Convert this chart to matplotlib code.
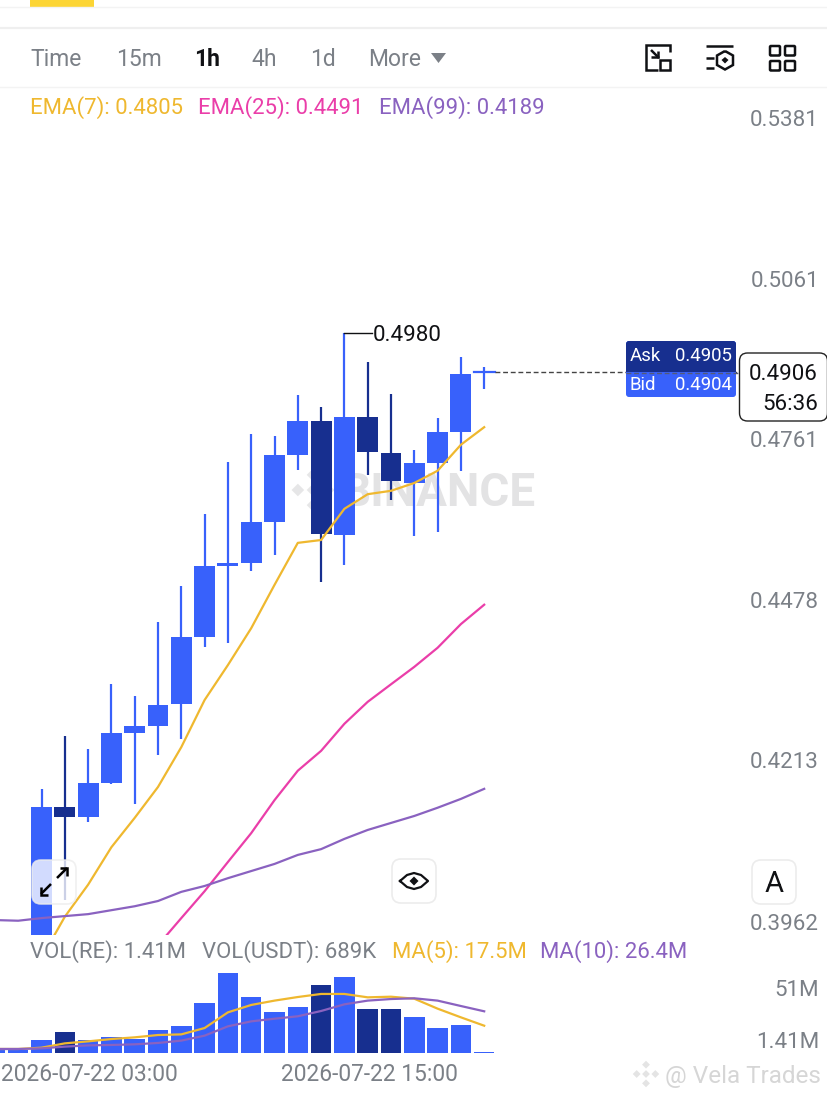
import numpy as np
from matplotlib import pyplot as plt
from matplotlib.patches import FancyBboxPatch, Polygon, Rectangle
from matplotlib.transforms import blended_transform_factory, ScaledTranslation

# candles, one per hour, index 0 is 01:00
opens = [.3929,.4157,.4141,.4195,.4276,.4287,.4323,.4435,.4557,.4562,.4634,.4753,.4815,.4611,.4823,.4757,.4703,.4739,.4795,.4904]
closes = [.4157,.4141,.4195,.4276,.4287,.4322,.4435,.4557,.4562,.4634,.4753,.4815,.4613,.4823,.4759,.4707,.4739,.4795,.4902,.4906]
highs = [.4186,.4271,.4250,.4356,.4337,.4461,.4522,.4648,.4741,.4792,.4788,.4863,.4841,.4980,.4925,.4865,.4762,.4821,.4934,.4915]
lows = [.3900,.4013,.4133,.4194,.4162,.4240,.4266,.4418,.4425,.4548,.4576,.4726,.4529,.4558,.4717,.4673,.4609,.4616,.4725,.4874]
ema7 = [.3925,.3987,.4036,.4094,.4140,.4189,.4253,.4330,.4388,.4450,.4524,.4597,.4602,.4657,.4683,.4689,.4703,.4725,.4772,.4804]
ema25 = [.3863,.3885,.3900,.3914,.3929,.3944,.3985,.4026,.4071,.4116,.4168,.4215,.4247,.4291,.4327,.4356,.4385,.4417,.4457,.4490]
# these start two candles earlier, off the left edge
ema99 = [.3982,.3981,.3985,.3988,.3991,.3997,.4003,.4011,.4025,.4034,.4046,.4057,.4068,.4082,.4091,.4107,.4121,.4132,.4143,.4156,.4170,.4186]
volumes = [2.4,3.3,12.3,19.8,12.3,15.1,13.2,21.7,25.5,47.3,75.6,52.9,38.7,43.5,64.3,71.8,41.6,41.6,34.0,23.6,26.5,1.41]
ma5 = [3.8,3.8,5.0,9.1,11.0,13.2,14.8,17.0,17.6,23.6,38.4,45.4,49.5,52.9,55.8,55.8,52.6,53.2,51.3,41.9,33.7,25.8]
ma10 = [3.8,3.8,4.4,6.0,7.2,7.6,8.2,9.5,11.7,16.4,25.2,29.9,32.4,34.7,39.7,46.0,49.5,51.0,51.7,49.5,44.4,39.4]
down_volume = [3,14,16,17]

price_ticks = [0.5381, 0.5061, 0.4761, 0.4478, 0.4213, 0.3962]
vol_ticks = [51, 1.41]
vol_tick_labels = ['51M', '1.41M']
time_ticks = [2, 14]
time_labels = ['2026-07-22 03:00', '2026-07-22 15:00']
tabs = ['Time', '15m', '1h', '4h', '1d', 'More']
last_price = 0.4906
high_price = 0.4980

UP = '#3861fb'
DOWN = '#172f8f'
YELLOW = '#efb82f'
PINK = '#ea3ea9'
PURPLE = '#8a62c0'
GREY = '#7b8087'
BLACK = '#101114'
NUM = 16.1

plt.rcParams['font.family'] = ['Roboto', 'DejaVu Sans']
W, H = 828, 1100
fig = plt.figure(figsize=(W/100, H/100), dpi=100)

def px_axes(top, bottom, z):
    a = fig.add_axes([0, 1-bottom/H, 1, (bottom-top)/H])
    a.set_zorder(z)
    a.patch.set_alpha(0)
    return a

# same candle spacing in both panes
x0, step = 41.5, 23.3
xlim = (-x0/step, (W-x0)/step)

def price_at(y):
    return 0.4906*np.exp((372-y)*0.00038075)

# background layer, pixel coords, watermark sits behind candles
bg = px_axes(0, H, 0)
bg.set_xlim(0, W); bg.set_ylim(H, 0); bg.axis('off')

def binance_logo(a, cx, cy, s, color):
    for dx, dy in [(0,-1),(0,1),(-1,0),(1,0),(0,0)]:
        r = s*0.3
        a.add_patch(Polygon([(cx+dx*s*0.72-r, cy+dy*s*0.72),(cx+dx*s*0.72, cy+dy*s*0.72-r),
                             (cx+dx*s*0.72+r, cy+dy*s*0.72),(cx+dx*s*0.72, cy+dy*s*0.72+r)],
                            closed=True, fc=color, ec='none'))

binance_logo(bg, 313, 490, 21, '#e6e6e7')
bg.text(438, 493, 'BINANCE', fontsize=33, fontweight='bold', color='#e3e3e4', ha='center', va='center')

# main price pane, log scale like the app
ax = px_axes(90, 935, 1)
ax.set_yscale('log')
ax.set_xlim(*xlim)
ax.set_ylim(price_at(935), price_at(90))
idx = np.arange(len(opens))
idx_long = np.arange(len(ema99)) - 2
for i in idx:
    c = UP if closes[i] >= opens[i] else DOWN
    ax.plot([i, i], [lows[i], highs[i]], color=c, lw=1.6, solid_capstyle='butt', zorder=2)
    ax.bar(i, abs(closes[i]-opens[i]), bottom=min(opens[i], closes[i]), width=0.9, color=c, zorder=2)
# last candle is nearly flat
ax.plot([18.55, 19.45], [last_price, last_price], color=UP, lw=1.6, zorder=2)
ax.plot(idx, ema7, color=YELLOW, lw=1.6, zorder=3)
ax.plot(idx, ema25, color=PINK, lw=1.6, zorder=3)
ax.plot(idx_long, ema99, color=PURPLE, lw=1.6, zorder=3)
ax.plot([19.45, 30.1], [last_price, last_price], color='#444444', lw=1, dashes=(3.5, 2), zorder=5)
ax.plot([13, 14.2], [high_price, high_price], color=BLACK, lw=1, zorder=4)
ax.annotate(f'{high_price:.4f}', xy=(14.2, high_price), xytext=(0, -3), textcoords='offset pixels',
            fontsize=NUM, color=BLACK, va='center', ha='left')
trans = blended_transform_factory(ax.transAxes, ax.transData)
for t in price_ticks:
    ax.annotate(f'{t:.4f}', xy=(1, t), xycoords=trans, xytext=(-9, 9), textcoords='offset pixels',
                fontsize=NUM, color=GREY, ha='right', va='center')
ax.set_axis_off()

# volume pane
vax = px_axes(965, 1053, 1)
vax.set_xlim(*xlim)
vax.set_ylim(0, (1053-965)*0.945)
vol_colors = [DOWN if i in down_volume else UP for i in range(len(volumes))]
vax.bar(idx_long, volumes, width=0.88, color=vol_colors, zorder=2)
vax.plot(idx_long, ma5, color=YELLOW, lw=1.6, zorder=3)
vax.plot(idx_long, ma10, color=PURPLE, lw=1.6, zorder=3)
vtrans = blended_transform_factory(vax.transAxes, vax.transData)
for t, lab in zip(vol_ticks, vol_tick_labels):
    vax.annotate(lab, xy=(1, t), xycoords=vtrans, xytext=(-9, 9), textcoords='offset pixels',
                 fontsize=NUM, color=GREY, ha='right', va='center')
for s in vax.spines.values():
    s.set_visible(False)
vax.set_yticks([])
vax.set_xticks(time_ticks)
vax.set_xticklabels(time_labels, fontsize=16.4, color=GREY)
vax.tick_params(axis='x', length=0, pad=7)
# first label would clip the left edge otherwise
nudge = ScaledTranslation(1.5/100, 0, fig.dpi_scale_trans)
for lab in vax.get_xticklabels():
    lab.set_transform(lab.get_transform() + nudge)

# app chrome on top
ui = px_axes(0, H, 5)
ui.set_xlim(0, W); ui.set_ylim(H, 0); ui.axis('off')

ui.add_patch(Rectangle((30, 0), 64, 6.5, fc='#fcd535', ec='none'))
ui.plot([0, W], [7, 7], color='#f3f3f3', lw=1)
ui.plot([0, W], [28, 28], color='#efefef', lw=1.6)
ui.plot([0, W], [87, 87], color='#f3f3f3', lw=1)

tab_x = [30, 116, 194, 251, 310, 368]
for name, tx in zip(tabs, tab_x):
    active = name == '1h'
    ui.text(tx, 60, name, fontsize=16.5, color=BLACK if active else GREY, fontweight='bold' if active else 'normal',
            ha='left', va='center')
ui.add_patch(Polygon([(431, 53), (446, 53), (438.5, 63)], closed=True, fc=GREY, ec='none'))

def line(xs, ys, lw=1.8, c=BLACK):
    ui.plot(xs, ys, color=c, lw=lw, solid_capstyle='butt', solid_joinstyle='miter')

# picture-in-picture icon
line([670.5, 670.5, 646, 646, 658], [52, 45, 45, 70, 70])
ui.add_patch(Rectangle((660, 60), 10.5, 10, fc='white', ec=BLACK, lw=1.8))
line([651, 658], [50, 57])
line([658, 658], [51, 58])
line([651, 659], [57, 57])
# settings icon
line([706, 733], [46, 46])
line([706, 714], [58, 58])
line([706, 714], [68, 68])
hx = [725, 733, 733, 725, 717, 717, 725]
hy = [51, 55.5, 65, 69.5, 65, 55.5, 51]
line(hx, hy)
ui.add_patch(Polygon([(725, 57), (728.5, 60), (725, 63.5), (721.5, 60)], closed=True, fc=BLACK, ec='none'))
# grid icon
for gx in (770, 785):
    for gy in (46, 61):
        ui.add_patch(FancyBboxPatch((gx, gy), 10, 9.5, boxstyle='round,pad=0,rounding_size=1', fc='white', ec=BLACK, lw=1.8))

# legends
def legend_row(y, parts):
    for tx, s, c in parts:
        ui.text(tx, y, s, fontsize=15.9, color=c, ha='left', va='center')

legend_row(108, [(30, 'EMA(7): 0.4805', YELLOW), (198, 'EMA(25): 0.4491', PINK), (379, 'EMA(99): 0.4189', PURPLE)])
legend_row(952, [(30, 'VOL(RE): 1.41M', GREY), (202, 'VOL(USDT): 689K', GREY), (392, 'MA(5): 17.5M', YELLOW), (540, 'MA(10): 26.4M', PURPLE)])

# ask / bid box
ui.add_patch(FancyBboxPatch((626, 341), 110, 56, boxstyle='round,pad=0,rounding_size=3', fc=UP, ec='none', zorder=2))
ui.add_patch(FancyBboxPatch((626, 341), 110, 28, boxstyle='round,pad=0,rounding_size=3', fc=DOWN, ec='none', zorder=2))
ui.add_patch(Rectangle((626, 360), 110, 12, fc=DOWN, ec='none', zorder=2))
for y, a, b in [(356, 'Ask', '0.4905'), (385, 'Bid', '0.4904')]:
    ui.text(630, y, a, fontsize=13.4, color='white', ha='left', va='center', zorder=3)
    ui.text(732, y, b, fontsize=13.4, color='white', ha='right', va='center', zorder=3)
ui.plot([626, 740], [372.5, 372.5], color='#555b78', lw=1, dashes=(3.5, 2), zorder=4)

# price tag
ui.add_patch(FancyBboxPatch((739.5, 353), 88, 68, boxstyle='round,pad=0,rounding_size=8', fc='white', ec='#222222', lw=1, zorder=4))
ui.text(818, 375, f'{last_price:.4f}', fontsize=NUM, color=BLACK, ha='right', va='center', zorder=5)
ui.text(818, 404, '56:36', fontsize=NUM, color=BLACK, ha='right', va='center', zorder=5)

# floating buttons
def button(cx, cy, fc='white', alpha=0.78):
    ui.add_patch(FancyBboxPatch((cx-22, cy-22), 44, 44, boxstyle='round,pad=0,rounding_size=9',
                                fc=fc, ec='#ececec', lw=1.2, alpha=alpha))

button(54, 882)
line([57, 67], [878, 868], lw=1.8, c='black')
line([60, 67.5, 67.5], [868, 868, 875.5], lw=1.8, c='black')
line([41, 51], [894, 884], lw=1.8, c='black')
line([41, 41, 48], [887, 894.5, 894.5], lw=1.8, c='black')
button(414, 881, alpha=1)
ui.plot([400, 407, 414, 421, 428, 421, 414, 407, 400], [881, 875, 873, 875, 881, 887, 889, 887, 881], color=BLACK, lw=1.6)
ui.add_patch(Polygon([(414, 876.5), (418.5, 881), (414, 885.5), (409.5, 881)], closed=True, fc=BLACK, ec='none'))
button(774, 882, alpha=1)
ui.text(774, 884, 'A', fontsize=21, color=BLACK, ha='center', va='center')

# screenshot watermark
binance_logo(ui, 646, 1074, 13, '#e4e4e4')
ui.text(665, 1076, '@ Vela Trades', fontsize=17.5, color='#d6d6d6', ha='left', va='center')

fig.savefig('out.png', dpi=100)
